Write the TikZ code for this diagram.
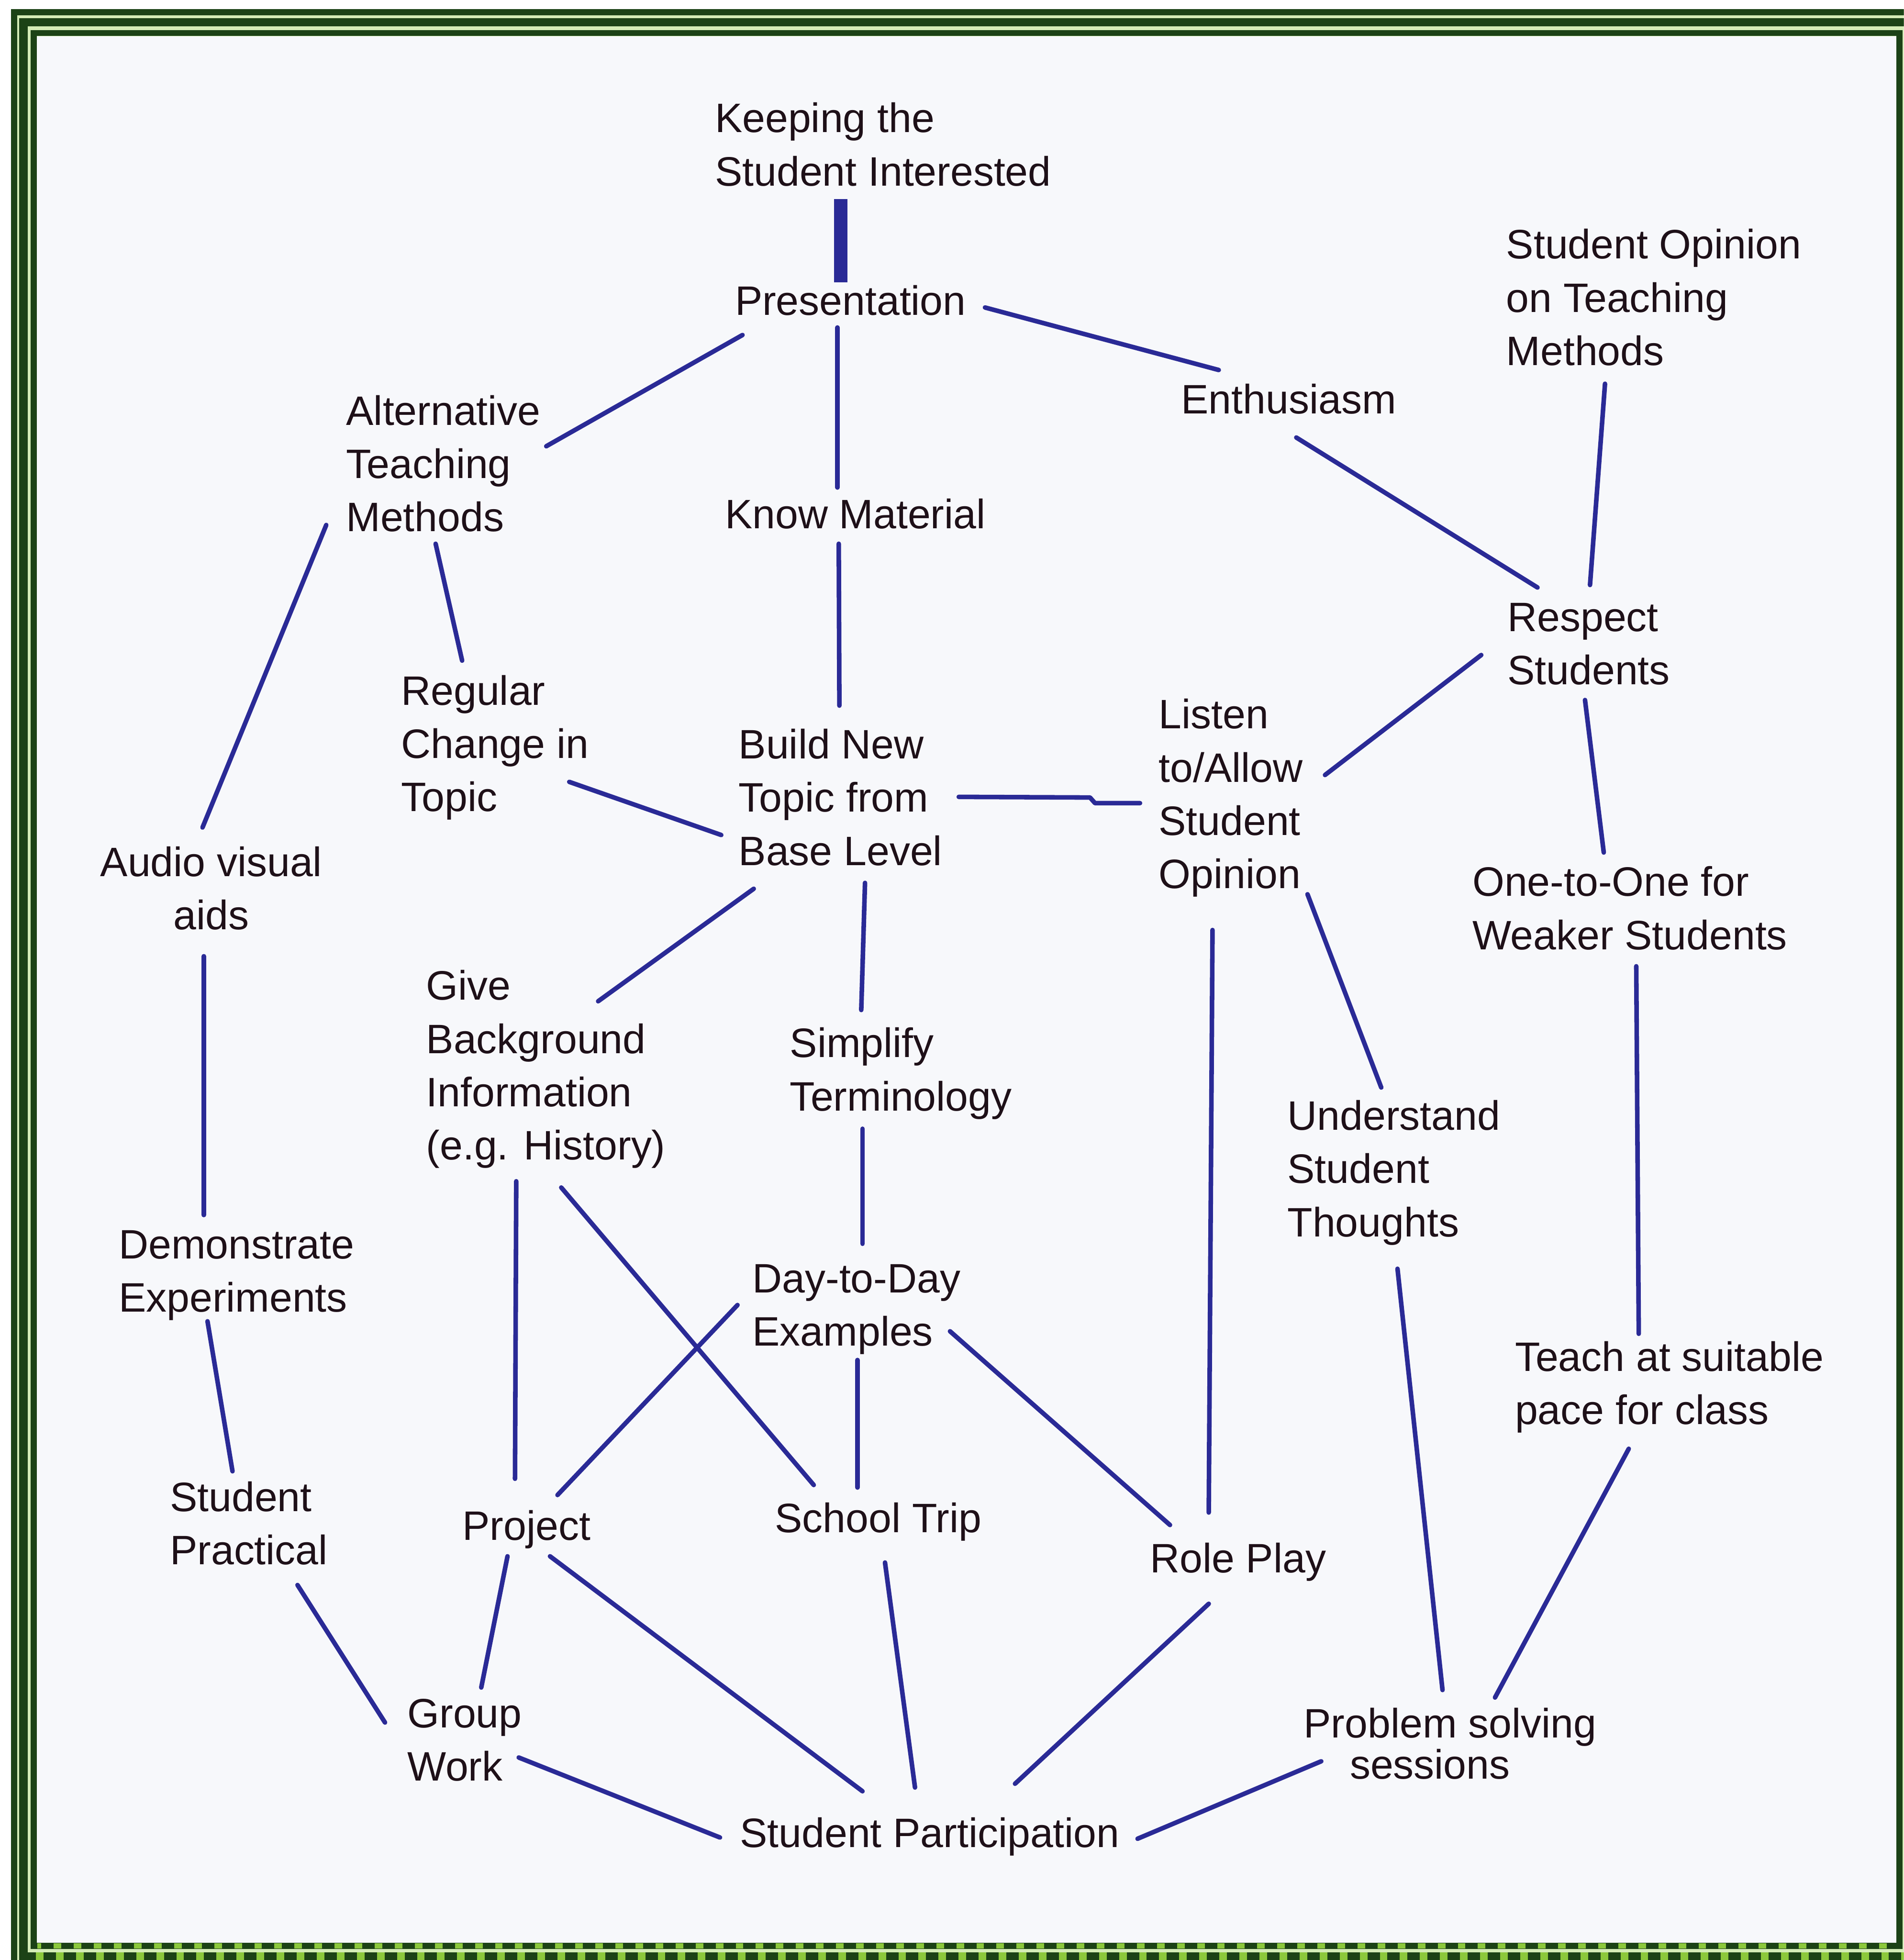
\documentclass[tikz,border=0pt]{standalone}
\usepackage{fontspec}
\setmainfont{Liberation Sans}
\definecolor{dkg}{RGB}{28,66,22}
\definecolor{ltg}{RGB}{140,200,60}
\definecolor{paleg}{RGB}{212,236,182}
\definecolor{bgc}{RGB}{247,248,251}
\definecolor{lineblue}{RGB}{42,42,150}
\definecolor{txt}{RGB}{30,16,24}
\newcommand\mlines[1]{\begin{tabular}[t]{@{}l@{}}#1\end{tabular}}
\newcommand\mlinesc[1]{\begin{tabular}[t]{@{}c@{}}#1\end{tabular}}
\begin{document}
\begin{tikzpicture}[x=0.03461cm,y=-0.03461cm,
  lbl/.style={inner sep=0pt,outer sep=0pt,anchor=base west,text=txt,font=\fontsize{32.4}{41.95}\selectfont},
  lblc/.style={lbl,anchor=base},
  conn/.style={draw=lineblue,line width=3.6pt,line cap=round,line join=round},
  thickconn/.style={draw=lineblue,line width=10.5pt,line cap=butt}]
\useasboundingbox (0,0) rectangle (1523,1568);
\begin{scope}
\clip (0,0) rectangle (1523,1568);
\fill[white] (0,0) rectangle (1523,1568);
\fill[paleg] (8.8,7.5) rectangle (1545,1590);
\fill[bgc] (29,29.2) rectangle (1517,1554.5);
% outer ring
\draw[dkg,line width=4.9pt] (11.3,9.8) rectangle (1545,1590);
% middle ring
\draw[dkg,line width=6.5pt] (18.8,1590) -- (18.8,17.75) -- (1545,17.75);
\draw[ltg,line width=6.5pt] (18.8,1565.2) -- (1530,1565.2);
\draw[dkg,line width=6.5pt,dash pattern=on 9.8pt off 6pt] (18.8,1565.2) -- (1530,1565.2);
% inner ring
\draw[dkg,line width=4.8pt] (26.85,26.45) rectangle (1519.5,1556.6);
\draw[ltg,line width=4.2pt,dash pattern=on 6pt off 9.8pt,dash phase=3pt] (30,1556.6) -- (1516,1556.6);
\end{scope}

% nodes
\node[lbl] (keep) at (572,106) {\mlines{Keeping the\\Student Interested}};
\node[lbl] (pres) at (588,252) {Presentation};
\node[lbl] (alt) at (277,340) {\mlines{Alternative\\Teaching\\Methods}};
\node[lbl] (know) at (580,423) {Know Material};
\node[lbl] (enth) at (945,331) {Enthusiasm};
\node[lbl] (sopin) at (1205,207) {\mlines{Student Opinion\\on Teaching\\Methods}};
\node[lbl] (resp) at (1206,505) {\mlines{Respect\\Students}};
\node[lbl] (reg) at (321,564) {\mlines{Regular\\Change in\\Topic}};
\node[lbl] (build) at (591,607) {\mlines{Build New\\Topic from\\Base Level}};
\node[lbl] (listen) at (927,583) {\mlines{Listen\\to/Allow\\Student\\Opinion}};
\node[lblc] (av) at (169,701) {\mlinesc{Audio visual\\aids}};
\node[lbl] (one) at (1178,717) {\mlines{One-to-One for\\Weaker Students}};
\node[lbl] (give) at (341,800) {\mlines{Give\\Background\\Information\\(e.g. History)}};
\node[lbl] (simp) at (632,846) {\mlines{Simplify\\Terminology}};
\node[lbl] (und) at (1030,904) {\mlines{Understand\\Student\\Thoughts}};
\node[lbl] (demo) at (95,1007) {\mlines{Demonstrate\\Experiments}};
\node[lbl] (day) at (602,1034) {\mlines{Day-to-Day\\Examples}};
\node[lbl] (teach) at (1212,1097) {\mlines{Teach at suitable\\pace for class}};
\node[lbl] (prac) at (136,1209) {\mlines{Student\\Practical}};
\node[lbl] (proj) at (370,1232) {Project};
\node[lbl] (trip) at (620,1226) {School Trip};
\node[lbl] (role) at (920,1258) {Role Play};
\node[lbl] (group) at (326,1382) {\mlines{Group\\Work}};
\node[lbl] (prob) at (1043,1390) {\mlines{Problem solving\\[-9.2pt]\hspace*{36.4pt}sessions}};
\node[lbl] (part) at (592,1478) {Student Participation};

% connectors
\draw[thickconn] ([shift={(100.6,53.3)}]keep.base west) -- ([shift={(84.6,-26.3)}]pres.base west);
\draw[conn] ([shift={(200,-6)}]pres.base west) -- ([shift={(30,-35)}]enth.base west);
\draw[conn] ([shift={(6,16)}]pres.base west) -- ([shift={(160,17)}]alt.base west);
\draw[conn] ([shift={(82,10)}]pres.base west) -- ([shift={(90,-33)}]know.base west);
\draw[conn] ([shift={(91,12)}]know.base west) -- ([shift={(80.5,-42.5)}]build.base west);
\draw[conn] ([shift={(92,19)}]enth.base west) -- ([shift={(24,-35)}]resp.base west);
\draw[conn] ([shift={(79,100)}]sopin.base west) -- ([shift={(66,-37)}]resp.base west);
\draw[conn] ([shift={(71.5,95)}]alt.base west) -- ([shift={(48.7,-35.5)}]reg.base west);
\draw[conn] ([shift={(-16,80)}]alt.base west) -- ([shift={(-7,-39)}]av.base);
\draw[conn] ([shift={(134.4,61.5)}]reg.base west) -- ([shift={(-14,61)}]build.base west);
\draw[conn] ([shift={(176,30.5)}]build.base west) -- ++(105,0.5) -- ++(4,4.5) -- ([shift={(-15,59.5)}]listen.base west);
\draw[conn] ([shift={(-21,19)}]resp.base west) -- ([shift={(133,37)}]listen.base west);
\draw[conn] ([shift={(62,55)}]resp.base west) -- ([shift={(105,-35)}]one.base west);
\draw[conn] ([shift={(12,104)}]build.base west) -- ([shift={(137.5,1)}]give.base west);
\draw[conn] ([shift={(101,99.3)}]build.base west) -- ([shift={(57,-38)}]simp.base west);
\draw[conn] ([shift={(119,132.4)}]listen.base west) -- ([shift={(75,-34)}]und.base west);
\draw[conn] ([shift={(43,161)}]listen.base west) -- ([shift={(47,-48)}]role.base west);
\draw[conn] ([shift={(131,56)}]one.base west) -- ([shift={(99,-30)}]teach.base west);
\draw[conn] ([shift={(-6,64)}]av.base) -- ([shift={(68,-35)}]demo.base west);
\draw[conn] ([shift={(58,57)}]simp.base west) -- ([shift={(88,-39)}]day.base west);
\draw[conn] ([shift={(72,145)}]give.base west) -- ([shift={(42,-49)}]proj.base west);
\draw[conn] ([shift={(108,150)}]give.base west) -- ([shift={(31,-38)}]trip.base west);
\draw[conn] ([shift={(-12,10)}]day.base west) -- ([shift={(76,-36)}]proj.base west);
\draw[conn] ([shift={(84,54)}]day.base west) -- ([shift={(66,-36)}]trip.base west);
\draw[conn] ([shift={(158,31)}]day.base west) -- ([shift={(16,-38)}]role.base west);
\draw[conn] ([shift={(71,50)}]demo.base west) -- ([shift={(50,-32)}]prac.base west);
\draw[conn] ([shift={(88,111)}]und.base west) -- ([shift={(111,-38)}]prob.base west);
\draw[conn] ([shift={(91,62)}]teach.base west) -- ([shift={(153,-32)}]prob.base west);
\draw[conn] ([shift={(102,59)}]prac.base west) -- ([shift={(-18,-4)}]group.base west);
\draw[conn] ([shift={(36,13)}]proj.base west) -- ([shift={(59,-32)}]group.base west);
\draw[conn] ([shift={(70,13)}]proj.base west) -- ([shift={(98,-45)}]part.base west);
\draw[conn] ([shift={(88,24)}]trip.base west) -- ([shift={(140,-48)}]part.base west);
\draw[conn] ([shift={(47,25)}]role.base west) -- ([shift={(220,-51)}]part.base west);
\draw[conn] ([shift={(89,24)}]group.base west) -- ([shift={(-16,-8)}]part.base west);
\draw[conn] ([shift={(14,19)}]prob.base west) -- ([shift={(318,-7)}]part.base west);
\end{tikzpicture}
\end{document}
